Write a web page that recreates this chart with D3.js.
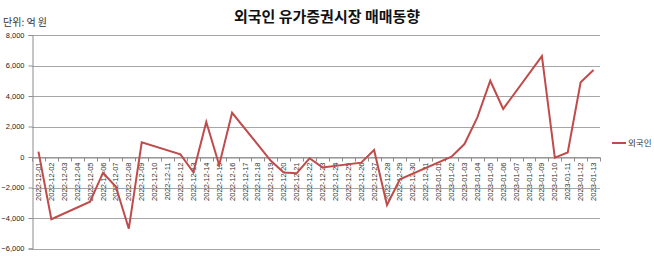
<!DOCTYPE html>
<html>
<head>
<meta charset="utf-8">
<script src="https://cdn.jsdelivr.net/npm/d3@7"></script>
<style>
    body { margin: 0; background: #fff; }
    text { font-family: "Noto Sans CJK KR", "Liberation Sans", sans-serif; }
</style>
</head>
<body>
<div id="chart"></div>
<script>
// every calendar day on the axis
var dates = [
    "2022-12-01","2022-12-02","2022-12-03","2022-12-04","2022-12-05","2022-12-06","2022-12-07",
    "2022-12-08","2022-12-09","2022-12-10","2022-12-11","2022-12-12","2022-12-13","2022-12-14",
    "2022-12-15","2022-12-16","2022-12-17","2022-12-18","2022-12-19","2022-12-20","2022-12-21",
    "2022-12-22","2022-12-23","2022-12-24","2022-12-25","2022-12-26","2022-12-27","2022-12-28",
    "2022-12-29","2022-12-30","2022-12-31","2023-01-01","2023-01-02","2023-01-03","2023-01-04",
    "2023-01-05","2023-01-06","2023-01-07","2023-01-08","2023-01-09","2023-01-10","2023-01-11",
    "2023-01-12","2023-01-13"
]

// net buying of foreigners (100 million won), null = market closed
var foreign = [
    350, -4080, null, null, -2930, -1030, -1950,
    -4700, 960, null, null, 175, -1000, 2300,
    -525, 2900, null, null, -250, -1020, -1070,
    -85, -680, null, null, -370, 460, -3150,
    -1460, null, null, null, 20, 850, 2600,
    5000, 3150, null, null, 6620, -45, 300,
    4900, 5700
]

var yTicks = [8000, 6000, 4000, 2000, 0, -2000, -4000, -6000]

var title = "외국인 유가증권시장 매매동향"
var unit = "단위: 억 원"
var seriesName = "외국인"
var lineColor = "#bf4b4b"

var W = 654, H = 256
var margin = {top: 35, right: 54, bottom: 7.5, left: 32}

var svg = d3.select("#chart")
    .append("svg")
    .attr("width", W)
    .attr("height", H)

// title and unit
svg.append("text")
    .attr("x", 327)
    .attr("y", 22)
    .attr("text-anchor", "middle")
    .attr("font-size", "15px")
    .attr("font-weight", "bold")
    .attr("fill", "#111")
    .text(title)

svg.append("text")
    .attr("x", 3)
    .attr("y", 26)
    .attr("font-size", "10px")
    .attr("fill", "#333")
    .text(unit)

// scales
var x = d3.scaleBand()
    .domain(dates)
    .range([margin.left, W - margin.right])

var y = d3.scaleLinear()
    .domain([-6000, 8000])
    .range([H - margin.bottom, margin.top])

// horizontal grid lines
svg.append("g")
    .selectAll("line")
    .data(yTicks)
    .enter()
    .append("line")
        .attr("x1", margin.left)
        .attr("x2", W - margin.right)
        .attr("y1", function(d) { return Math.round(y(d)) + 0.5 })
        .attr("y2", function(d) { return Math.round(y(d)) + 0.5 })
        .attr("stroke", "#a6a6a6")
        .attr("stroke-width", 1)

// y axis
var yAxis = svg.append("g")
    .attr("transform", "translate(" + (margin.left + 0.5) + ",0)")
    .call(d3.axisLeft(y).tickValues(yTicks).tickSize(4).tickPadding(4).tickFormat(d3.format(",")))
yAxis.selectAll("path, line").attr("stroke", "#8c8c8c")
yAxis.selectAll("text")
    .attr("font-size", "7.5px")
    .attr("fill", "#222")
    .style("font-family", "'Liberation Sans', Arial, sans-serif")

// x axis sits on the zero line, ticks between the days
var xAxis = svg.append("g")
    .attr("transform", "translate(0," + (Math.round(y(0)) + 0.5) + ")")
    .call(d3.axisBottom(x).tickSize(0).tickFormat(""))
xAxis.select("path").attr("stroke", "#8c8c8c")

var bounds = dates.map(function(d) { return x(d) }).concat([x(dates[dates.length - 1]) + x.bandwidth()])
xAxis.selectAll("line.sep")
    .data(bounds)
    .enter()
    .append("line")
        .attr("class", "sep")
        .attr("x1", function(d) { return Math.round(d) + 0.5 })
        .attr("x2", function(d) { return Math.round(d) + 0.5 })
        .attr("y1", 0)
        .attr("y2", 4)
        .attr("stroke", "#8c8c8c")

xAxis.selectAll("text.lbl")
    .data(dates)
    .enter()
    .append("text")
        .attr("class", "lbl")
        .attr("transform", function(d) {
            return "translate(" + (x(d) + x.bandwidth() / 2 + 2.5) + ",5) rotate(-90)"
        })
        .attr("text-anchor", "end")
        .attr("font-size", "7.5px")
        .attr("fill", "#333")
        .style("font-family", "'Liberation Sans', Arial, sans-serif")
        .text(function(d) { return d })

// the line only joins trading days
var points = dates.map(function(d, i) { return {date: d, value: foreign[i]} })
    .filter(function(p) { return p.value !== null })

var line = d3.line()
    .x(function(p) { return x(p.date) + x.bandwidth() / 2 })
    .y(function(p) { return y(p.value) })

svg.append("path")
    .datum(points)
    .attr("d", line)
    .attr("fill", "none")
    .attr("stroke", lineColor)
    .attr("stroke-width", 2)
    .attr("stroke-linejoin", "miter")

// legend
var legend = svg.append("g").attr("transform", "translate(612,143)")
legend.append("line")
    .attr("x1", 0)
    .attr("x2", 14)
    .attr("stroke", lineColor)
    .attr("stroke-width", 2)
legend.append("text")
    .attr("x", 16)
    .attr("y", 3)
    .attr("font-size", "8.5px")
    .attr("fill", "#333")
    .text(seriesName)
</script>
</body>
</html>
